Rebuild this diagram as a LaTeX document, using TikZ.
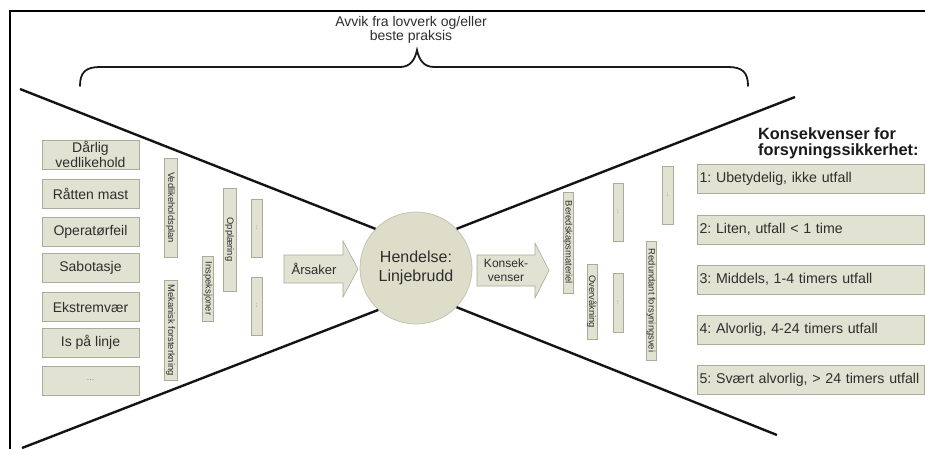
\documentclass[tikz,border=0pt]{standalone}
\usepackage{fontspec}
\setmainfont{Liberation Sans}
\frenchspacing
\definecolor{boxfill}{HTML}{E1E2D1}
\definecolor{boxline}{HTML}{ABAB9C}
\definecolor{circfill}{HTML}{DDDDCA}
\definecolor{circline}{HTML}{C4C4B4}
\definecolor{txt}{HTML}{2E2E2E}
\definecolor{dots}{HTML}{8A8A80}
\begin{document}
\begin{tikzpicture}[x=1pt,y=-1pt,
  cause/.style={draw=boxline, fill=boxfill, line width=0.8pt, minimum width=97pt,
    minimum height=29pt, inner sep=0pt, text=txt, align=center,
    font=\fontsize{14}{15}\selectfont},
  barrier/.style={draw=boxline, fill=boxfill, line width=0.6pt, rotate=-90,
    inner sep=0pt, text=txt, font=\fontsize{9.4}{10}\selectfont},
  dotbar/.style={barrier, text=dots, font=\fontsize{6}{6}\selectfont},
  conseq/.style={draw=boxline, fill=boxfill, line width=0.8pt, text width=222pt,
    align=left, inner xsep=2.5pt, inner ysep=0pt, minimum height=29pt, text=txt,
    font=\fontsize{14.2}{15}\selectfont},
  arrowbody/.style={draw=boxline, fill=boxfill, line width=0.6pt, line join=miter},
  xline/.style={line width=2.4pt, draw=black!92},
  brace/.style={line width=1.8pt, draw=black!90, line cap=round},
  frame/.style={line width=1.4pt, draw=black}]
\useasboundingbox (0,0) rectangle (925,448);

% outer frame (left and top edges)
\draw[frame] (10,450) -- (10,11) -- (927,11);

% heading and curly brace
\node[text=txt, align=center, font=\fontsize{14}{14}\selectfont] (dev) at (411,30)
  {Avvik fra lovverk og/eller\\beste praksis};
\coordinate (bl) at (80,86);
\coordinate (tip) at (417,50);
\coordinate (br) at (748,86);
\draw[brace] (bl) .. controls (80,72) and (86,67) .. (100,67) -- (400,67)
  .. controls (410,67) and (415,60) .. (tip)
  .. controls (419,60) and (424,67) .. (434,67) -- (728,67)
  .. controls (742,67) and (748,72) .. (br);

% central event
\node[circle, draw=circline, fill=circfill, line width=0.8pt, minimum size=112pt,
  inner sep=0pt, text=txt, align=center, font=\fontsize{16}{19}\selectfont]
  (ev) at (416,268) {Hendelse:\\Linjebrudd};

% the bow-tie lines
\coordinate (ulEnd) at (20,89);
\coordinate (llEnd) at (22,448);
\coordinate (urEnd) at (795,97);
\coordinate (lrEnd) at (777,435);
\draw[xline] (ulEnd) -- (ev.136);
\draw[xline] (llEnd) -- (ev.228);
\draw[xline] (urEnd) -- (ev.44);
\draw[xline] (lrEnd) -- (ev.316);

% causes
\node[cause] (c1) at (90.5,154.5) {Dårlig\\vedlikehold};
\node[cause] (c2) at (90.5,193.5) {Råtten mast};
\node[cause] (c3) at (90.5,232) {Operatørfeil};
\node[cause] (c4) at (90.5,268) {Sabotasje};
\node[cause] (c5) at (90.5,307) {Ekstremvær};
\node[cause] (c6) at (90.5,342.5) {Is på linje};
\node[cause, text=dots, font=\fontsize{9}{9}\selectfont] (c7) at (90.5,380.5) {...};

% preventive barriers
\node[barrier, minimum width=99pt, minimum height=13pt] (p1) at (170.5,207.5) {Vedlikeholdsplan};
\node[barrier, minimum width=100pt, minimum height=13pt] (p2) at (170.5,330) {Mekanisk forsterkning};
\node[barrier, minimum width=65pt, minimum height=11pt] (p3) at (208,288.5) {Inspeksjoner};
\node[barrier, minimum width=103pt, minimum height=13pt] (p4) at (229.5,239.5) {Opplæring};
\node[dotbar, minimum width=58pt, minimum height=11pt] (p5) at (256.5,228) {...};
\node[dotbar, minimum width=58pt, minimum height=11pt] (p6) at (256.5,306) {...};

% arrow: causes
\draw[arrowbody] (284,255) -- (343,255) -- (343,241) -- (358,269) -- (343,297)
  -- (343,283) -- (284,283) -- cycle;
\node[text=txt, font=\fontsize{13}{13}\selectfont] (aA) at (314,269) {Årsaker};

% arrow: consequences
\draw[arrowbody] (477,255) -- (535,255) -- (535,243) -- (549,270.5) -- (535,298)
  -- (535,286) -- (477,286) -- cycle;
\node[text=txt, align=center, font=\fontsize{12}{14}\selectfont] (aK) at (506,270.5)
  {Konsek-\\venser};

% mitigating barriers
\node[barrier, minimum width=101pt, minimum height=10pt] (m1) at (568,242.5) {Beredskapsmateriel};
\node[barrier, minimum width=75pt, minimum height=10pt] (m2) at (592,301.5) {Overvåkning};
\node[dotbar, minimum width=58pt, minimum height=10pt] (m3) at (618,212) {...};
\node[dotbar, minimum width=59pt, minimum height=10pt] (m4) at (618,302.5) {...};
\node[barrier, minimum width=119pt, minimum height=10pt] (m5) at (651,300.5) {Redundant forsyningsvei};
\node[dotbar, minimum width=58pt, minimum height=11pt] (m6) at (667.5,195) {...};

% consequence levels
\node[anchor=north west, inner sep=0pt, align=left, text=black!90,
  font=\bfseries\fontsize{16.3}{16.5}\selectfont] (kh) at (758,127)
  {Konsekvenser for\\forsyningssikkerhet:};
\node[conseq] (k1) at (810.5,178.5) {\mbox{1: Ubetydelig, ikke utfall}};
\node[conseq] (k2) at (810.5,229.5) {\mbox{2: Liten, utfall < 1 time}};
\node[conseq] (k3) at (810.5,279.5) {\mbox{3: Middels, 1-4 timers utfall}};
\node[conseq] (k4) at (810.5,329.5) {\mbox{4: Alvorlig, 4-24 timers utfall}};
\node[conseq] (k5) at (810.5,380) {\mbox{5: Svært alvorlig, > 24 timers utfall}};
\end{tikzpicture}
\end{document}
